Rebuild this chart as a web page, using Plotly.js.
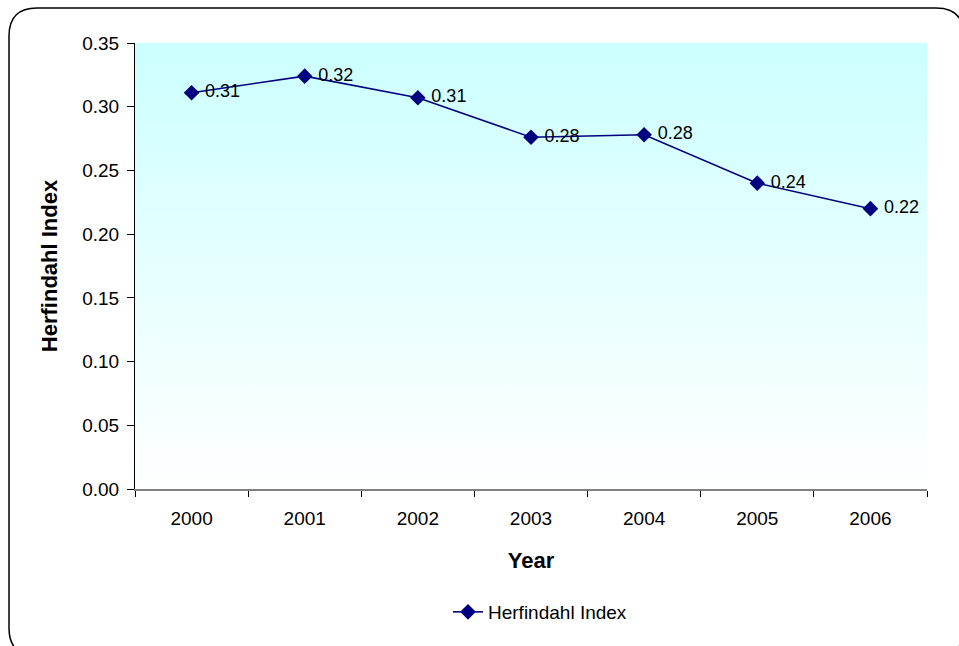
<!DOCTYPE html>
<html>
<head>
<meta charset="utf-8">
<script src="https://cdn.plot.ly/plotly-3.0.1.min.js"></script>
<style>
html,body{margin:0;padding:0;background:#fff;}
#chart{width:959px;height:646px;}
</style>
</head>
<body>
<div id="chart"></div>
<script>
const years = ["2000","2001","2002","2003","2004","2005","2006"];
const herfindahl = [0.311, 0.324, 0.307, 0.276, 0.278, 0.240, 0.220];
const yTicks = [0, 0.05, 0.10, 0.15, 0.20, 0.25, 0.30, 0.35];

const W = 959, H = 646;
const m = {l: 135, r: 32, t: 43, b: 157};
const pw = W - m.l - m.r, ph = H - m.t - m.b;
const px = x => (x - m.l) / pw;
const py = y => 1 - (y - m.t) / ph;

const x0 = 9, y0 = 8, x1 = 964, y1 = 656, r = 28;
const borderPath = [
  `M ${px(x0)},${py(y0 + r)}`,
  `Q ${px(x0)},${py(y0)} ${px(x0 + r)},${py(y0)}`,
  `L ${px(x1 - r)},${py(y0)}`,
  `Q ${px(x1)},${py(y0)} ${px(x1)},${py(y0 + r)}`,
  `L ${px(x1)},${py(y1 - r)}`,
  `Q ${px(x1)},${py(y1)} ${px(x1 - r)},${py(y1)}`,
  `L ${px(x0 + r)},${py(y1)}`,
  `Q ${px(x0)},${py(y1)} ${px(x0)},${py(y1 - r)}`,
  'Z'
].join(' ');

const gradSvg = '<svg xmlns="http://www.w3.org/2000/svg" width="100" height="100" preserveAspectRatio="none">' +
  '<defs><linearGradient id="g" x1="0" y1="0" x2="0" y2="1">' +
  '<stop offset="0" stop-color="#CCFFFF"/><stop offset="1" stop-color="#FFFFFF"/>' +
  '</linearGradient></defs><rect width="100" height="100" fill="url(#g)"/></svg>';
const gradUri = 'data:image/svg+xml;base64,' + btoa(gradSvg);

const FONT = 'Liberation Sans, Arial, sans-serif';

const trace = {
  x: years,
  y: herfindahl,
  type: 'scatter',
  mode: 'lines+markers+text',
  name: 'Herfindahl Index',
  text: herfindahl.map(v => '\u00a0' + v.toFixed(2)),
  textposition: 'middle right',
  textfont: {family: FONT, size: 18, color: '#000'},
  line: {color: '#000080', width: 1.6},
  marker: {symbol: 'diamond', size: 12, color: '#000080'},
  cliponaxis: false,
  hoverinfo: 'x+y'
};

const layout = {
  width: W, height: H,
  margin: m,
  paper_bgcolor: '#ffffff',
  plot_bgcolor: 'rgba(0,0,0,0)',
  font: {family: FONT, size: 18, color: '#000'},
  showlegend: true,
  legend: {
    orientation: 'h',
    x: px(540), xanchor: 'center',
    y: py(612), yanchor: 'middle',
    font: {size: 19, color: '#000'},
    bgcolor: 'rgba(0,0,0,0)'
  },
  xaxis: {
    type: 'category',
    range: [-0.5, 6.5],
    tickson: 'boundaries',
    ticks: 'outside',
    ticklen: 6,
    tickcolor: '#000',
    ticklabelstandoff: 12,
    showline: true,
    linecolor: '#808080',
    linewidth: 1.5,
    showgrid: false,
    zeroline: false,
    tickfont: {size: 19},
    title: {text: 'Year', font: {size: 22, weight: 'bold'}, standoff: 24}
  },
  yaxis: {
    range: [0, 0.35],
    tickvals: yTicks,
    ticktext: yTicks.map(v => v.toFixed(2)),
    ticks: 'outside',
    ticklen: 7,
    tickcolor: '#000',
    ticklabelstandoff: 4,
    showline: true,
    linecolor: '#000',
    linewidth: 1,
    showgrid: false,
    zeroline: false,
    tickfont: {size: 19},
    title: {text: 'Herfindahl Index', font: {size: 22, weight: 'bold'}, standoff: 18}
  },
  images: [{
    source: gradUri,
    xref: 'paper', yref: 'paper',
    x: 0, y: 1, sizex: 1, sizey: 1,
    xanchor: 'left', yanchor: 'top',
    sizing: 'stretch', layer: 'below'
  }],
  shapes: [{
    type: 'path', xref: 'paper', yref: 'paper',
    path: borderPath,
    line: {color: '#000', width: 1.5},
    fillcolor: 'rgba(0,0,0,0)',
    layer: 'above'
  }]
};

Plotly.newPlot('chart', [trace], layout, {displayModeBar: false, staticPlot: true});
</script>
</body>
</html>
